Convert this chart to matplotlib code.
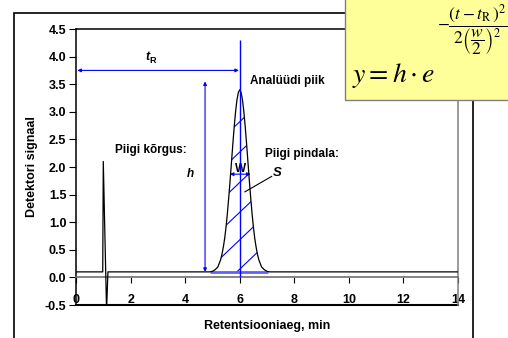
import numpy as np
import matplotlib.pyplot as plt
from matplotlib.patches import Rectangle, Polygon

plt.rcParams['font.family'] = ['Liberation Sans', 'DejaVu Sans']
plt.rcParams['mathtext.fontset'] = 'stix'
plt.rcParams['axes.unicode_minus'] = False

# chromatogram, time in min / detector signal
base1_t = [0.0, 0.5, 0.98]
base1_y = [0.10, 0.10, 0.10]
spike_t = [1.00, 1.12, 1.17]
spike_y = [2.10, -0.60, 0.10]
base2_t = [1.5, 2.5, 3.5, 4.5, 4.9]
base2_y = [0.10, 0.10, 0.10, 0.10, 0.10]
peak_t = [5.0, 5.1, 5.2, 5.3, 5.35, 5.4, 5.45, 5.5, 5.55, 5.6, 5.65, 5.7, 5.75,
          5.8, 5.85, 5.9, 5.95, 6.0, 6.05, 6.1, 6.15, 6.2, 6.25, 6.3, 6.35,
          6.4, 6.45, 6.5, 6.55, 6.6, 6.65, 6.7, 6.8, 6.9, 7.0, 7.1]
peak_y = [0.11, 0.14, 0.19, 0.32, 0.42, 0.55, 0.71, 0.92, 1.17, 1.46, 1.77, 2.10, 2.43,
          2.74, 3.01, 3.22, 3.35, 3.40, 3.35, 3.22, 3.01, 2.74, 2.43, 2.10, 1.77,
          1.46, 1.17, 0.92, 0.71, 0.55, 0.42, 0.32, 0.19, 0.14, 0.11, 0.10]
base3_t = [7.5, 9.0, 10.5, 12.0, 14.0]
base3_y = [0.10, 0.10, 0.10, 0.10, 0.10]

t_R = 6.0
baseline = 0.1
h_top = 3.55
w_left, w_right, w_level = 5.64, 6.40, 1.87

xticks = [0, 2, 4, 6, 8, 10, 12, 14]
yticks = [-0.5, 0.0, 0.5, 1.0, 1.5, 2.0, 2.5, 3.0, 3.5, 4.0, 4.5]

trace_t = base1_t + spike_t + base2_t + peak_t + base3_t
trace_y = base1_y + spike_y + base2_y + peak_y + base3_y

fig = plt.figure(figsize=(5.08, 3.38), dpi=100)
ax = fig.add_axes([76/508, 33/338, 382/508, 276/338])

blue = '#0000ff'
ax.plot(trace_t, trace_y, color='black', lw=0.9, zorder=4)

# hatched peak area
area = Polygon(list(zip([peak_t[0]] + peak_t, [baseline] + peak_y)), closed=True,
               fill=False, ec='none')
ax.add_patch(area)
for c in [0.15, 0.68, 1.18, 1.72, 2.27, 2.82]:
    xs = np.array([4.5, 7.5])
    ln, = ax.plot(xs, c + 0.47*(xs - 6.0), color=blue, lw=0.8, zorder=3)
    ln.set_clip_path(area)

ax.hlines(baseline, 4.9, 7.05, color='#6060ff', lw=2, zorder=3)
ax.vlines(t_R, 0, 4.3, color=blue, lw=1.0, zorder=5)

arr = dict(arrowstyle='<|-|>', color=blue, lw=0.8, shrinkA=0, shrinkB=0, mutation_scale=5)
ax.annotate('', xy=(0.05, 3.75), xytext=(5.97, 3.75), arrowprops=arr)
ax.annotate('', xy=(4.73, baseline), xytext=(4.73, h_top), arrowprops=arr)
ax.annotate('', xy=(w_left, w_level), xytext=(w_right, w_level), arrowprops=arr)
ax.plot([6.19, 7.17], [1.55, 1.83], color='black', lw=0.8, zorder=5)

tb = dict(fontsize=8.5, fontweight='bold')
ax.text(2.68, 3.99, 't', ha='right', va='center', fontstyle='italic', fontsize=9,
        fontweight='bold')
ax.annotate('R', xy=(2.68, 3.99), xytext=(0.5, -2.5), textcoords='offset points',
            ha='left', va='center', fontsize=6.5, fontweight='bold')
ax.text(6.37, 3.56, 'Analüüdi piik', ha='left', va='center', **tb)
ax.text(2.73, 2.31, 'Piigi kõrgus:', ha='center', va='center', **tb)
ax.text(4.18, 1.87, 'h', ha='center', va='center', fontstyle='italic', **tb)
ax.text(6.92, 2.23, 'Piigi pindala:', ha='left', va='center', **tb)
ax.text(7.38, 1.9, 'S', ha='center', va='center', fontstyle='italic', fontsize=9.5,
        fontweight='bold')
ax.text(6.02, 1.97, 'W', ha='center', va='center', **tb)

ax.set_xlim(0, 14)
ax.set_ylim(-0.5, 4.5)
ax.spines['bottom'].set_position(('data', 0))
ax.spines['bottom'].set_color('#707070')
ax.spines['bottom'].set_linewidth(1.2)
for s in ['left', 'top', 'right']:
    ax.spines[s].set_linewidth(1.1)
ax.spines['right'].set_color('#808080')
ax.axhline(-0.5, color='black', lw=1.5, clip_on=False)

ax.set_xticks(xticks)
ax.set_xticklabels([str(v) for v in xticks], fontweight='bold', fontsize=9)
ax.set_yticks(yticks)
ax.set_yticklabels(['%.1f' % v for v in yticks], fontweight='bold', fontsize=9)
ax.tick_params(axis='x', direction='out', length=4, pad=8)
ax.tick_params(axis='y', direction='out', length=5, pad=2)

ax.set_xlabel('Retentsiooniaeg, min', fontsize=9, fontweight='bold')
ax.xaxis.set_label_coords(0.5, -0.055)
ax.set_ylabel('Detektori signaal', fontsize=9, fontweight='bold')
ax.yaxis.set_label_coords(-0.1, 0.5)

# outer frame
fig.add_artist(Rectangle((14/508, -0.05), 459/508, (338-13)/338 + 0.05,
                         transform=fig.transFigure, fill=False, ec='black', lw=1.2))

# formula box
fig.add_artist(Rectangle((345/508, 238/338), 170/508, 110/338, transform=fig.transFigure,
                         fc='#ffff99', ec='#808080', lw=1.0, zorder=5))
fig.text(352/508, (338-82)/338, r'$y = h\cdot e$', fontsize=20, ha='left',
         va='baseline', zorder=6)
fig.text(437/508, (338-2)/338,
         r'$-\dfrac{(t-t_\mathrm{R}\,)^2}{2\left(\dfrac{w}{2}\right)^2}$',
         fontsize=12.5, ha='left', va='top', zorder=6)

fig.savefig('out.png', dpi=100)
